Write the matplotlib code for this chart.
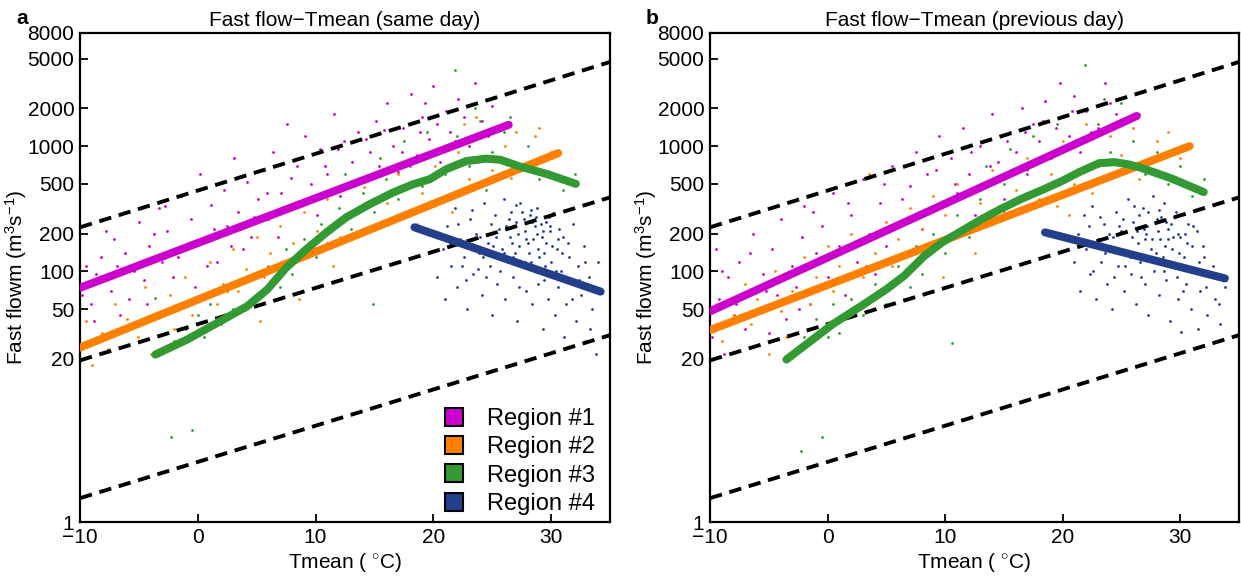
"""Fast flow vs Tmean scatter with regional fits, same day / previous day."""
import numpy as np
import matplotlib
matplotlib.use("Agg")
import matplotlib.pyplot as plt
from matplotlib.lines import Line2D

plt.rcParams["font.family"] = ["Liberation Sans", "DejaVu Sans"]
plt.rcParams["mathtext.fontset"] = "custom"
plt.rcParams["mathtext.rm"] = "Liberation Sans"
plt.rcParams["mathtext.it"] = "Liberation Sans"

COLORS = ["#cc00cc", "#ff8000", "#339933", "#233e8b"]
LABELS = ["Region #1", "Region #2", "Region #3", "Region #4"]
YTICKS = [1, 20, 50, 100, 200, 500, 1000, 2000, 5000, 8000]
XTICKS = [-10, 0, 10, 20, 30]

# reference scaling lines (same in both panels), values at T=-10 and T=35
DASH_T = [-10, 35]
DASH_LINES = [[225, 4700], [19.5, 390], [1.55, 31]]

# ---- panel a: same day ----
A_FIT1 = [(-10, 74), (26.4, 1480)]
A_FIT2 = [(-10, 24.7), (30.6, 880)]
A_FIT3 = [(-3.6, 21.7), (-0.9, 28.6), (1.9, 40), (4.2, 52.8), (5.9, 71.8), (7.5, 107),
          (9.2, 150), (10.9, 204), (12.6, 270), (14.6, 344), (16.6, 427), (18.3, 497),
          (19.7, 545), (21.1, 655), (22.8, 760), (24.5, 795), (25.7, 778), (27.3, 690),
          (29.7, 597), (32.1, 500)]
A_FIT4 = [(18.4, 225), (34.2, 69)]

A_R1 = [(-9.5, 110), (-9.1, 55), (-8.6, 95), (-8.2, 130), (-7.4, 70), (-7.1, 180), (-6.6, 45),
        (-6.2, 140), (-5.4, 100), (-5.0, 250), (-4.6, 85), (-4.1, 160), (-3.3, 320), (-3.0, 120),
        (-2.6, 210), (-2.1, 90), (-1.4, 400), (-1.0, 150), (-0.6, 260), (0.2, 600), (0.4, 180),
        (1.1, 340), (1.6, 120), (2.2, 450), (2.5, 230), (3.1, 800), (3.4, 300), (4.2, 520),
        (4.5, 190), (5.1, 380), (5.6, 650), (6.0, 260), (6.4, 900), (7.1, 420), (7.6, 1500),
        (8.0, 330), (8.4, 700), (9.1, 1200), (9.6, 500), (10.1, 280), (10.4, 950), (11.0, 600),
        (11.6, 1800), (12.1, 400), (12.4, 1100), (13.1, 750), (13.6, 1300), (14.0, 520),
        (14.6, 900), (15.1, 1600), (15.4, 700), (16.1, 2200), (16.6, 1000), (17.0, 620),
        (17.4, 1400), (18.1, 2600), (18.6, 850), (19.0, 1700), (19.6, 1150), (20.0, 3000),
        (20.6, 750), (21.1, 1900), (21.4, 1300), (22.1, 2400), (23.0, 1000), (23.5, 3200),
        (24.1, 1600), (25.0, 2100), (-8.8, 40), (-5.8, 60), (-2.8, 330), (0.8, 110), (3.8, 150),
        (-9.8, 65), (-7.8, 210), (-6.9, 110), (-4.3, 55), (-3.7, 200), (-1.7, 130), (-0.2, 75),
        (1.4, 220), (2.8, 160), (4.8, 270), (5.9, 420), (6.8, 190), (7.9, 560), (9.4, 380),
        (10.8, 700), (11.9, 950), (13.3, 480), (14.3, 1150), (15.8, 1350), (17.3, 900),
        (18.9, 1300), (20.3, 1500), (21.8, 1100), (22.6, 1700), (24.6, 1200), (19.3, 2200)]
A_R2 = [(-9.5, 40), (-9.0, 18), (-8.1, 32), (-7.0, 55), (-6.4, 25), (-6.0, 42), (-5.1, 30),
        (-4.5, 75), (-4.0, 22), (-3.1, 48), (-2.4, 65), (-2.0, 35), (-1.1, 90), (-0.5, 45),
        (0.1, 60), (1.0, 120), (1.6, 55), (2.1, 80), (3.0, 150), (3.4, 70), (4.1, 105),
        (5.0, 190), (5.6, 90), (6.1, 140), (7.0, 230), (7.4, 110), (8.1, 170), (9.0, 300),
        (9.6, 140), (10.1, 210), (11.0, 380), (12.1, 190), (13.0, 280), (14.1, 470),
        (15.0, 230), (16.1, 350), (17.0, 600), (18.1, 300), (19.0, 420), (20.1, 700),
        (21.0, 380), (22.1, 900), (23.0, 550), (24.1, 1200), (25.0, 650), (26.1, 1000),
        (27.0, 1300), (28.1, 700), (29.0, 1400), (30.0, 900), (18.6, 240), (19.6, 210),
        (21.6, 300), (22.6, 1500), (23.6, 1700), (26.6, 560), (28.6, 1200), (5.3, 40),
        (8.6, 60), (11.5, 110), (-7.6, 24), (-1.6, 28)]
A_R3 = [(-2.3, 4.8), (-0.5, 5.4), (-3.6, 61), (-2.0, 28), (-1.0, 35), (0.0, 45), (0.5, 30),
        (1.0, 55), (2.0, 38), (2.5, 70), (3.0, 50), (4.0, 85), (5.0, 60), (6.0, 110), (7.0, 75),
        (7.5, 150), (8.0, 95), (9.0, 180), (10.0, 130), (10.5, 240), (11.0, 170), (12.0, 320),
        (13.0, 220), (14.0, 420), (14.9, 55), (15.0, 300), (16.0, 550), (17.0, 380), (18.0, 700),
        (19.0, 480), (20.0, 900), (21.0, 600), (21.8, 4050), (22.0, 1200), (23.0, 700),
        (24.0, 1600), (25.0, 900), (26.0, 1300), (27.0, 650), (28.0, 1000), (29.0, 550),
        (30.0, 800), (31.0, 450), (32.0, 600), (17.5, 1100), (19.5, 1300), (23.5, 2000),
        (26.5, 1700), (12.5, 600), (15.5, 800), (24.5, 450)]
A_R4 = [(20.3, 90), (20.8, 150), (21.0, 60), (21.2, 230), (21.5, 110), (21.8, 320), (22.0, 75),
        (22.3, 180), (22.6, 130), (22.9, 50), (23.1, 260), (23.4, 95), (23.6, 200), (23.9, 140),
        (24.1, 65), (24.3, 350), (24.6, 170), (24.8, 110), (25.0, 45), (25.2, 280), (25.4, 80),
        (25.6, 220), (25.8, 150), (26.0, 380), (26.1, 60), (26.3, 120), (26.5, 190), (26.6, 300),
        (26.8, 90), (27.0, 250), (27.1, 40), (27.3, 160), (27.4, 350), (27.6, 110), (27.8, 210),
        (27.9, 70), (28.1, 140), (28.2, 280), (28.4, 55), (28.5, 180), (28.7, 100), (28.8, 320),
        (29.0, 130), (29.1, 240), (29.3, 35), (29.4, 85), (29.6, 170), (29.7, 60), (29.9, 210),
        (30.0, 120), (30.2, 290), (30.3, 45), (30.5, 150), (30.6, 75), (30.8, 100), (31.0, 190),
        (31.1, 30), (31.3, 55), (31.5, 130), (31.7, 85), (31.9, 240), (32.1, 40), (32.3, 110),
        (32.5, 65), (32.8, 160), (33.0, 28), (33.2, 90), (33.5, 50), (33.8, 22), (34.0, 120),
        (26.2, 230), (26.9, 140), (27.2, 200), (27.7, 260), (28.0, 170), (28.3, 120), (28.6, 230),
        (28.9, 150), (29.2, 190), (29.5, 110), (29.8, 270), (30.1, 160), (27.5, 300), (26.7, 170),
        (28.8, 200), (29.9, 95), (30.7, 220), (25.5, 130), (24.9, 240), (23.8, 105),
        (21.4, 170), (22.1, 240), (22.8, 85), (23.3, 310), (24.0, 190), (24.5, 90), (25.1, 160),
        (25.7, 100), (26.4, 260), (26.8, 130), (27.3, 75), (27.9, 180), (28.4, 250), (28.9, 80),
        (29.4, 140), (29.9, 230), (30.4, 100), (30.9, 140), (31.4, 170), (31.8, 60), (32.4, 85),
        (32.9, 120), (33.3, 35), (27.0, 340), (28.3, 310), (29.6, 250), (30.6, 180), (26.0, 140),
        (25.3, 190), (24.2, 130), (23.0, 160), (22.4, 110), (27.8, 120), (28.7, 270), (29.3, 210)]

# ---- panel b: previous day ----
B_FIT1 = [(-10, 48), (26.3, 1740)]
B_FIT2 = [(-10, 34), (30.8, 1000)]
B_FIT3 = [(-3.5, 19.8), (0.4, 37.7), (3.0, 54), (5.0, 72), (6.5, 92), (8.2, 132),
          (9.8, 172), (11.2, 205), (13.0, 258), (14.7, 314), (16.5, 380), (18.4, 453),
          (20.0, 530), (21.4, 620), (23.1, 731), (24.4, 745), (25.5, 718), (26.5, 680),
          (29.2, 555), (32.0, 430)]
B_FIT4 = [(18.5, 205), (33.8, 88)]

B_R1 = [(-9.8, 30), (-9.5, 150), (-9.2, 60), (-8.8, 22), (-8.5, 90), (-8.0, 45), (-7.5, 120),
        (-7.0, 35), (-6.8, 70), (-6.3, 200), (-6.0, 50), (-5.5, 95), (-5.0, 32), (-4.7, 150),
        (-4.3, 65), (-4.0, 260), (-3.5, 42), (-3.0, 110), (-2.7, 75), (-2.2, 190), (-2.0, 330),
        (-1.5, 55), (-1.0, 140), (-0.5, 230), (0.0, 90), (0.5, 420), (1.0, 160), (1.5, 65),
        (2.0, 280), (2.5, 120), (3.0, 550), (3.5, 200), (4.0, 95), (4.5, 350), (5.0, 160),
        (5.5, 700), (6.0, 250), (6.5, 130), (7.0, 480), (7.5, 900), (8.0, 220), (8.5, 600),
        (9.0, 330), (9.5, 1200), (10.0, 180), (10.5, 800), (11.0, 420), (11.5, 1400), (12.0, 600),
        (12.5, 280), (13.0, 1000), (13.5, 500), (14.0, 1800), (14.5, 750), (15.0, 380),
        (15.5, 1300), (16.0, 900), (16.5, 2000), (17.0, 600), (17.5, 1500), (18.0, 1100),
        (18.5, 2300), (19.0, 800), (19.8, 3200), (20.0, 1700), (20.5, 1200), (21.0, 2500),
        (21.5, 900), (22.0, 1900), (23.0, 1400), (23.6, 3200), (24.0, 2200), (25.0, 1600),
        (-9.0, 100), (-7.8, 55), (-6.6, 140), (-5.2, 70), (-3.8, 85), (-2.4, 50), (-1.2, 300),
        (0.3, 130), (1.7, 350), (3.3, 110), (4.8, 500), (6.3, 380), (7.8, 300), (9.2, 650),
        (10.8, 500), (12.2, 900), (13.8, 700), (15.3, 1100), (16.8, 1300), (18.3, 1600),
        (19.4, 1400), (20.8, 1900), (22.4, 1300), (24.5, 1800)]
B_R2 = [(-9.5, 55), (-9.0, 28), (-8.0, 45), (-7.0, 80), (-6.5, 38), (-6.0, 60), (-5.0, 22),
        (-4.5, 100), (-4.0, 48), (-3.0, 70), (-2.0, 130), (-1.5, 55), (-1.0, 90), (0.0, 160),
        (0.5, 70), (1.0, 110), (2.0, 200), (3.0, 90), (3.5, 600), (4.0, 140), (5.0, 250),
        (5.5, 110), (6.0, 180), (7.0, 320), (7.5, 140), (8.0, 220), (9.0, 400), (9.5, 170),
        (10.0, 280), (11.0, 500), (12.0, 230), (13.0, 350), (14.0, 650), (15.0, 300), (16.0, 450),
        (17.0, 800), (18.0, 380), (19.0, 600), (20.0, 1100), (21.0, 500), (22.0, 1500),
        (23.0, 700), (24.0, 1200), (25.0, 850), (26.0, 1400), (27.0, 700), (28.0, 1100),
        (29.0, 1300), (30.0, 800), (19.5, 330), (20.5, 280), (22.5, 420), (26.5, 550),
        (28.5, 600), (6.5, 60), (9.8, 90), (-3.5, 30), (12.5, 140)]
B_R3 = [(-2.3, 3.7), (-0.5, 4.8), (10.6, 27), (-2.0, 30), (-1.0, 42), (0.0, 30), (0.5, 55),
        (1.0, 32), (2.0, 60), (3.0, 45), (4.0, 80), (5.0, 55), (6.0, 110), (7.0, 75), (7.5, 160),
        (8.0, 95), (9.0, 200), (10.0, 140), (11.0, 280), (12.0, 190), (13.0, 380), (14.0, 260),
        (15.0, 500), (16.0, 350), (17.0, 650), (18.0, 450), (19.0, 850), (20.0, 550),
        (21.0, 1100), (21.9, 4450), (22.0, 700), (23.0, 1500), (24.0, 900), (25.0, 2200),
        (26.0, 1100), (27.0, 600), (28.0, 900), (29.0, 500), (30.0, 700), (31.0, 400), (32.0, 550),
        (17.5, 1200), (19.5, 1500), (23.5, 2400), (26.5, 1800), (13.5, 700), (15.5, 950)]
B_R4 = [(21.0, 120), (21.3, 200), (21.5, 70), (21.8, 280), (22.0, 150), (22.3, 95), (22.5, 330),
        (22.8, 60), (23.0, 180), (23.3, 120), (23.5, 240), (23.8, 80), (24.0, 160), (24.2, 50),
        (24.5, 300), (24.7, 110), (25.0, 210), (25.2, 70), (25.4, 140), (25.6, 380), (25.8, 95),
        (26.0, 250), (26.2, 55), (26.4, 170), (26.6, 120), (26.8, 320), (27.0, 80), (27.1, 200),
        (27.3, 45), (27.5, 150), (27.7, 400), (27.8, 100), (28.0, 260), (28.2, 65), (28.3, 180),
        (28.5, 130), (28.6, 350), (28.8, 85), (29.0, 220), (29.1, 40), (29.3, 150), (29.5, 110),
        (29.6, 300), (29.8, 60), (30.0, 190), (30.1, 33), (30.3, 130), (30.5, 80), (30.7, 240),
        (30.9, 50), (31.0, 160), (31.2, 100), (31.5, 35), (31.7, 70), (32.0, 130), (32.3, 45),
        (32.6, 90), (33.0, 60), (33.4, 38), (33.8, 75), (27.2, 230), (27.6, 180), (28.1, 210),
        (28.4, 270), (28.7, 160), (29.2, 240), (29.4, 190), (29.9, 140), (26.5, 280), (26.9, 220),
        (28.9, 120), (27.4, 130), (30.4, 200), (25.9, 190), (24.8, 230), (23.6, 140), (22.2, 230),
        (29.7, 90), (31.4, 210), (21.6, 160), (22.6, 100), (23.2, 270), (23.9, 200), (24.4, 90),
        (25.1, 260), (25.7, 130), (26.3, 210), (26.7, 90), (27.3, 300), (27.9, 140), (28.2, 310),
        (28.6, 100), (29.0, 180), (29.5, 270), (30.0, 110), (30.6, 170), (31.1, 230), (31.6, 120),
        (32.2, 75), (32.8, 110), (33.3, 55), (26.1, 330), (27.0, 180), (28.8, 250), (29.8, 200),
        (30.2, 70), (24.3, 190), (25.3, 110), (31.9, 160)]

PANELS = [
    ("a", "Fast flow\u2212Tmean (same day)", [A_R1, A_R2, A_R3, A_R4],
     [A_FIT1, A_FIT2, A_FIT3, A_FIT4], True),
    ("b", "Fast flow\u2212Tmean (previous day)", [B_R1, B_R2, B_R3, B_R4],
     [B_FIT1, B_FIT2, B_FIT3, B_FIT4], False),
]
W, H = 1241, 578
AX_RECTS = [[80 / W, 56 / H, 530 / W, 489 / H], [710 / W, 56 / H, 529 / W, 489 / H]]
LETTER_X = [16 / W, 646 / W]

fig = plt.figure(figsize=(W / 100, H / 100), dpi=100)

for rect, lx, (letter, title, scatters, fits, show_legend) in zip(AX_RECTS, LETTER_X, PANELS):
    ax = fig.add_axes(rect)
    ax.set_yscale("log")

    for pts, color in zip(scatters, COLORS):
        pts = np.array(pts)
        ax.scatter(pts[:, 0], pts[:, 1], s=4, color=color, linewidths=0, zorder=2)

    for vals in DASH_LINES:
        ax.plot(DASH_T, vals, color="black", lw=2.8, dashes=(3.2, 2.0), zorder=3)

    for fit, color in zip(fits, COLORS):
        fit = np.array(fit)
        ax.plot(fit[:, 0], fit[:, 1], color=color, lw=5.8, solid_capstyle="round",
                solid_joinstyle="round", zorder=4)

    ax.set_xlim(-10, 35)
    ax.set_ylim(1, 8000)
    ax.set_xticks(XTICKS)
    ax.set_yticks(YTICKS)
    ax.set_yticklabels([str(v) for v in YTICKS])
    ax.yaxis.set_minor_locator(matplotlib.ticker.NullLocator())
    ax.tick_params(direction="in", length=6, width=1.3, labelsize=15, pad=4)
    for sp in ax.spines.values():
        sp.set_linewidth(1.6)

    ax.set_xlabel("Tmean ( $^{\\circ}$C)", fontsize=15, labelpad=3)
    ax.set_ylabel("Fast flowm (m$^{3}$s$^{-1}$)", fontsize=15)
    ax.yaxis.set_label_coords(-0.096, 0.5)
    ax.set_title(title, fontsize=15, pad=5)
    fig.text(lx, 1 - 18 / H, letter, fontsize=15, fontweight="bold", va="center", ha="left")

    if show_legend:
        handles = [Line2D([], [], marker="s", linestyle="none", markersize=13,
                          markerfacecolor=c, markeredgecolor="black", markeredgewidth=1.5)
                   for c in COLORS]
        ax.legend(handles, LABELS, loc="lower right", bbox_to_anchor=(0.99, -0.005),
                  frameon=False, fontsize=17, handlelength=1.0, handletextpad=0.9,
                  labelspacing=0.27, borderaxespad=0, borderpad=0.4)

fig.savefig("out.png", dpi=100)
